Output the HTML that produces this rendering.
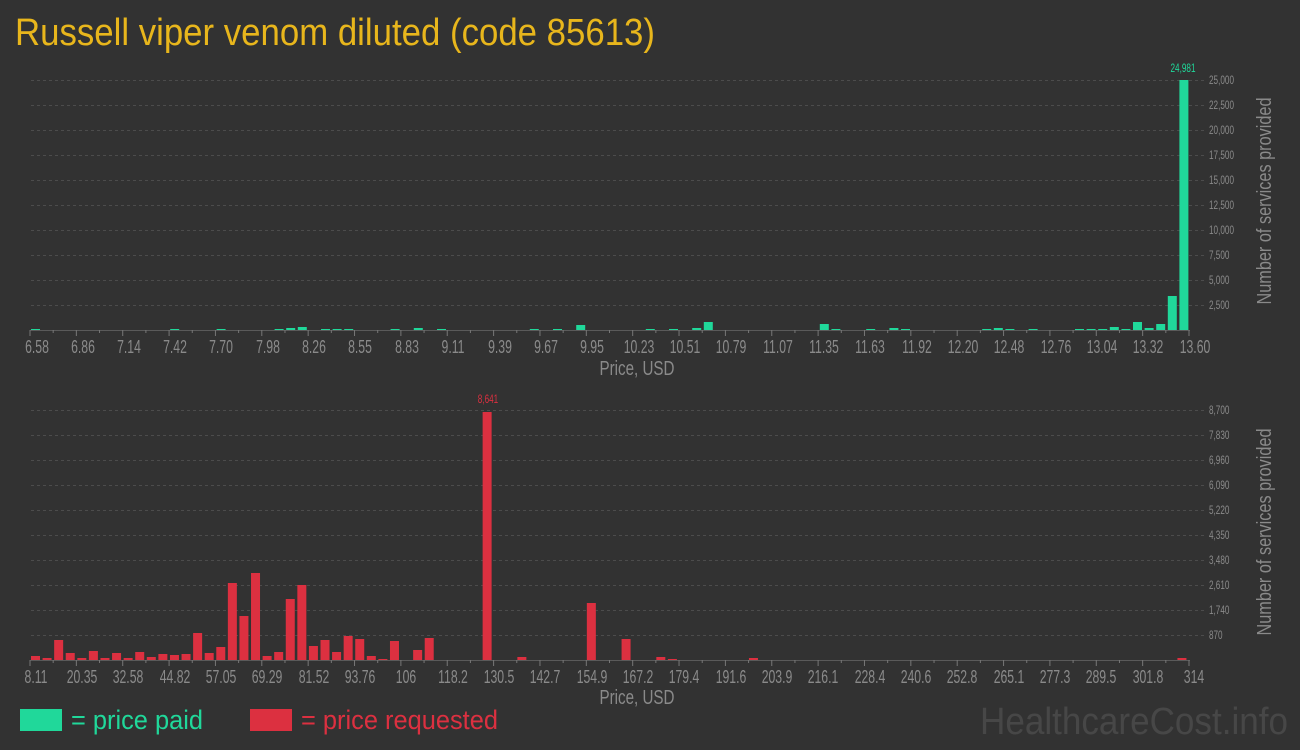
<!DOCTYPE html>
<html><head><meta charset="utf-8"><style>
html,body{margin:0;padding:0;background:#323232;}
svg{display:block;}
text{font-family:"Liberation Sans Narrow","Liberation Sans",sans-serif;}
</style></head><body>
<svg id="s" width="1300" height="750" xmlns="http://www.w3.org/2000/svg">
<rect width="1300" height="750" fill="#323232"/>
<text x="15" y="45" font-size="38" fill="#e8b61c" textLength="640" lengthAdjust="spacingAndGlyphs">Russell viper venom diluted (code 85613)</text>
<g id="g"></g>
<g font-size="12" fill="#8a8a8a" class="c">
<text x="1209" y="84">25,000</text><text x="1209" y="109">22,500</text><text x="1209" y="134">20,000</text><text x="1209" y="159">17,500</text><text x="1209" y="184">15,000</text><text x="1209" y="209">12,500</text><text x="1209" y="234">10,000</text><text x="1209" y="259">7,500</text><text x="1209" y="284">5,000</text><text x="1209" y="309">2,500</text>
<text x="1209" y="414">8,700</text><text x="1209" y="439">7,830</text><text x="1209" y="464">6,960</text><text x="1209" y="489">6,090</text><text x="1209" y="514">5,220</text><text x="1209" y="539">4,350</text><text x="1209" y="564">3,480</text><text x="1209" y="589">2,610</text><text x="1209" y="614">1,740</text><text x="1209" y="639">870</text>
</g>
<g class="c" font-size="12" text-anchor="middle">
<text x="1183" y="72" fill="#20d89a">24,981</text>
<text x="488" y="403" fill="#dc3040">8,641</text>
</g>
<g font-size="20" fill="#8a8a8a" text-anchor="middle">
<text transform="translate(1271,201) rotate(-90)" textLength="207" lengthAdjust="spacingAndGlyphs">Number of services provided</text>
<text transform="translate(1271,532) rotate(-90)" textLength="207" lengthAdjust="spacingAndGlyphs">Number of services provided</text>
<text x="637" y="375" textLength="75" lengthAdjust="spacingAndGlyphs">Price, USD</text>
<text x="637" y="704" textLength="75" lengthAdjust="spacingAndGlyphs">Price, USD</text>
</g>
<g font-size="18" fill="#8a8a8a" text-anchor="middle" class="c">
<text x="37" y="353">6.58</text><text x="83" y="353">6.86</text><text x="129" y="353">7.14</text><text x="175" y="353">7.42</text><text x="221" y="353">7.70</text><text x="268" y="353">7.98</text><text x="314" y="353">8.26</text><text x="360" y="353">8.55</text><text x="407" y="353">8.83</text><text x="453" y="353">9.11</text><text x="500" y="353">9.39</text><text x="546" y="353">9.67</text><text x="592" y="353">9.95</text><text x="639" y="353">10.23</text><text x="685" y="353">10.51</text><text x="731" y="353">10.79</text><text x="778" y="353">11.07</text><text x="824" y="353">11.35</text><text x="870" y="353">11.63</text><text x="917" y="353">11.92</text><text x="963" y="353">12.20</text><text x="1009" y="353">12.48</text><text x="1056" y="353">12.76</text><text x="1102" y="353">13.04</text><text x="1148" y="353">13.32</text><text x="1195" y="353">13.60</text>
<text x="36" y="683">8.11</text><text x="82" y="683">20.35</text><text x="128" y="683">32.58</text><text x="175" y="683">44.82</text><text x="221" y="683">57.05</text><text x="267" y="683">69.29</text><text x="314" y="683">81.52</text><text x="360" y="683">93.76</text><text x="406" y="683">106</text><text x="453" y="683">118.2</text><text x="499" y="683">130.5</text><text x="545" y="683">142.7</text><text x="592" y="683">154.9</text><text x="638" y="683">167.2</text><text x="684" y="683">179.4</text><text x="731" y="683">191.6</text><text x="777" y="683">203.9</text><text x="823" y="683">216.1</text><text x="870" y="683">228.4</text><text x="916" y="683">240.6</text><text x="962" y="683">252.8</text><text x="1009" y="683">265.1</text><text x="1055" y="683">277.3</text><text x="1101" y="683">289.5</text><text x="1148" y="683">301.8</text><text x="1194" y="683">314</text>
</g>
<rect x="20" y="709" width="42" height="22" fill="#20d89a"/>
<text x="71" y="729" font-size="27" fill="#20d89a" textLength="132" lengthAdjust="spacingAndGlyphs">= price paid</text>
<rect x="250" y="709" width="42" height="22" fill="#dc3040"/>
<text x="301" y="729" font-size="27" fill="#dc3040" textLength="197" lengthAdjust="spacingAndGlyphs">= price requested</text>
<text x="1288" y="734" font-size="38" fill="#474747" text-anchor="end" textLength="308" lengthAdjust="spacingAndGlyphs">HealthcareCost.info</text>
</svg>
<script>
var g=document.getElementById('g'),NS='http://www.w3.org/2000/svg';
function el(t,a){var e=document.createElementNS(NS,t);for(var k in a)e.setAttribute(k,a[k]);g.appendChild(e);}
for(var i=0;i<10;i++){el('line',{x1:31,x2:1205,y1:80+25*i+.5,y2:80+25*i+.5,stroke:'#4c4c4c','stroke-dasharray':'3,3'});
el('line',{x1:31,x2:1205,y1:410+25*i+.5,y2:410+25*i+.5,stroke:'#4c4c4c','stroke-dasharray':'3,3'});}
[330,660].forEach(function(y){el('line',{x1:30,x2:1190,y1:y+.5,y2:y+.5,stroke:'#5a5a5a'});
for(var k=0;k<=50;k++){var x=30+k*46.36/2;el('line',{x1:x,x2:x,y1:y,y2:y+(k%2?3:6),stroke:'#777'});}});
var tb={0:1,12:1,16:1,21:1,22:2,23:3,25:1,26:1,27:1,31:1,33:2,35:1,43:1,45:1,47:5,53:1,55:1,57:2,58:8,68:6,69:1,72:1,74:2,75:1,82:1,83:2,84:1,86:1,90:1,91:1,92:1,93:3,94:1,95:8,96:2,97:6,98:34,99:250};
for(var k in tb){var c=35.5+11.6*k;el('rect',{x:c-4.5,y:330-tb[k],width:9,height:tb[k],fill:'#20d89a'});}
var bh=[4,2,20,7,2,9,2,7,2,8,3,6,5,6,27,7,13,77,44,87,4,8,61,75,14,20,8,24,21,4,1,19,0,10,22];
var bb={};bh.forEach(function(h,i){if(h)bb[i]=h;});
bb[39]=248;bb[42]=3;bb[48]=57;bb[51]=21;bb[54]=3;bb[55]=1;bb[62]=2;bb[99]=2;
for(var k in bb){var c=35.5+11.58*k;el('rect',{x:c-4.5,y:660-bb[k],width:9,height:bb[k],fill:'#dc3040'});}
document.querySelectorAll('.c text').forEach(function(t){try{var w=t.getComputedTextLength();t.setAttribute('textLength',(w*0.68).toFixed(1));t.setAttribute('lengthAdjust','spacingAndGlyphs');}catch(e){}});
</script>
</body></html>
